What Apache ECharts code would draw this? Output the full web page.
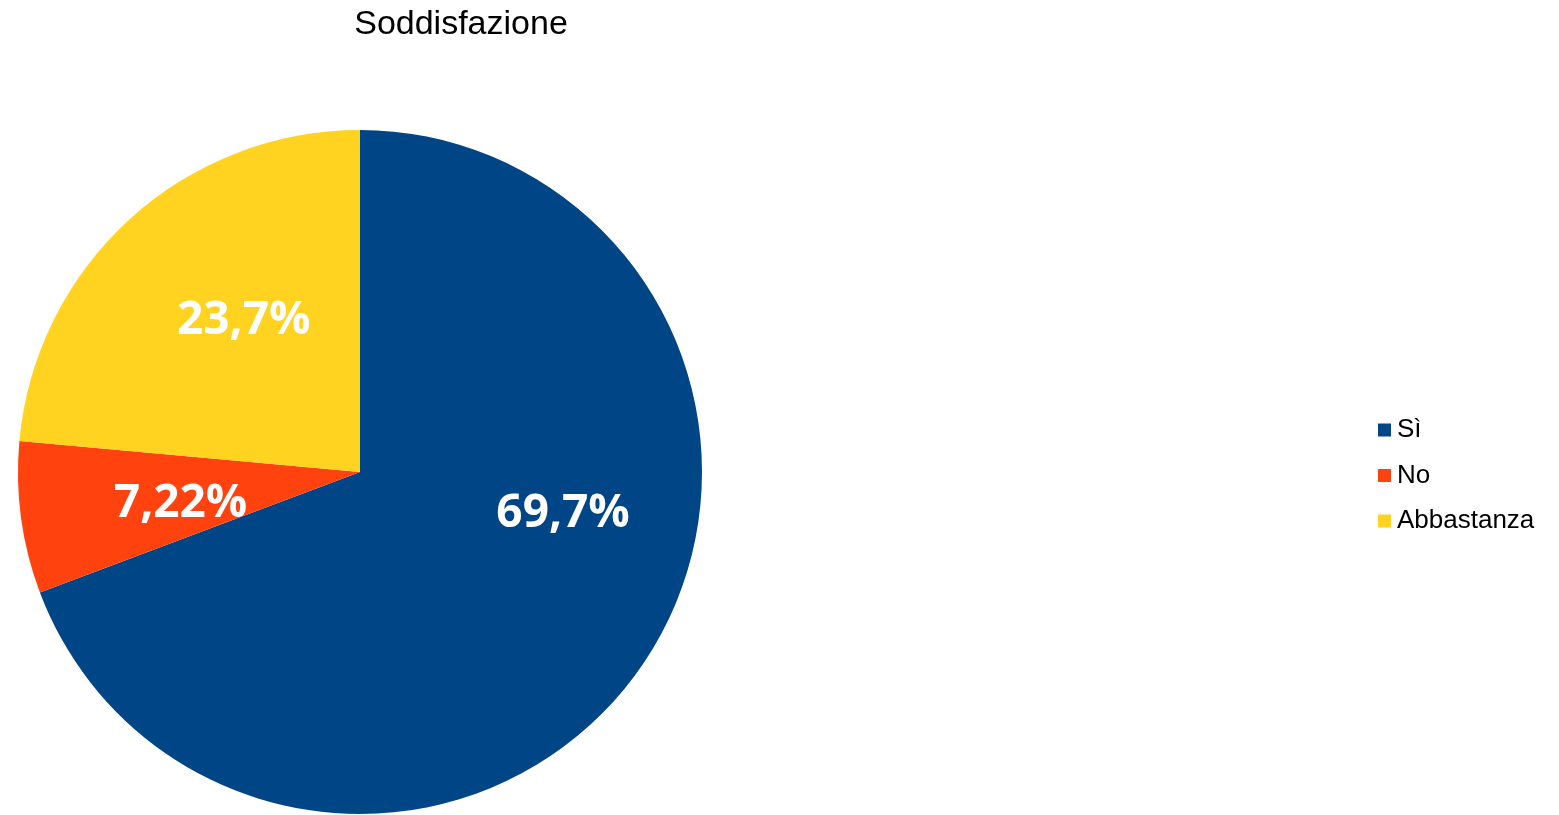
<!DOCTYPE html>
<html>
<head>
<meta charset="utf-8">
<script src="https://cdn.jsdelivr.net/npm/echarts@6/dist/echarts.min.js"></script>
<style>html,body{margin:0;padding:0;background:#fff;}#c{width:1559px;height:815px;}</style>
</head>
<body>
<div id="c"></div>
<script>
const categories = ['Sì', 'No', 'Abbastanza'];
const values = [69.7, 7.22, 23.7];
const labels = ['69,7%', '7,22%', '23,7%'];
const colors = ['#004586', '#ff420e', '#ffd320'];

// label nudges to mimic the original renderer's placement (style only)
const labelNudge = [[60, -57], [-7, 9], [1, -23]];

const chart = echarts.init(document.getElementById('c'));
chart.setOption({
  animation: false,
  title: {
    text: 'Soddisfazione',
    left: 456, top: 3, textAlign: 'center',
    textStyle: { fontFamily: 'Liberation Sans', fontSize: 34, fontWeight: 'normal', color: '#000' }
  },
  legend: {
    orient: 'vertical', left: 1373, top: 412,
    itemWidth: 13, itemHeight: 13, itemGap: 19.5, icon: 'rect',
    textStyle: { fontFamily: 'Liberation Sans', fontSize: 26, color: '#000', padding: [0,0,0,1] },
    data: categories
  },
  series: [{
    type: 'pie',
    center: [360, 472],
    radius: [0, 342],
    startAngle: 90,
    clockwise: true,
    label: {
      show: true, position: 'inside',
      formatter: p => labels[p.dataIndex],
      color: '#fff', fontFamily: 'Open Sans', fontWeight: 'bold', fontSize: 46
    },
    labelLayout: p => ({ dx: labelNudge[p.dataIndex][0], dy: labelNudge[p.dataIndex][1] }),
    labelLine: { show: false },
    itemStyle: { borderWidth: 0 },
    emphasis: { disabled: true },
    data: categories.map((c, i) => ({ name: c, value: values[i], itemStyle: { color: colors[i] } }))
  }]
});
</script>
</body>
</html>
